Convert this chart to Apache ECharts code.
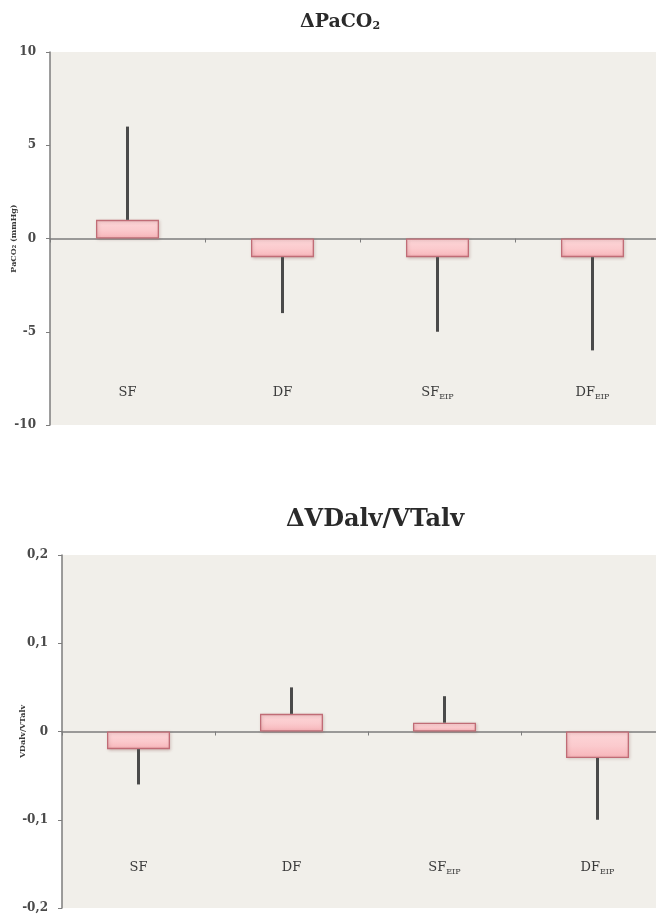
<!DOCTYPE html>
<html>
<head>
<meta charset="utf-8">
<script src="https://cdn.jsdelivr.net/npm/echarts@6/dist/echarts.min.js"></script>
<style>
  html, body { margin: 0; padding: 0; background: #ffffff; }
  #chart { width: 656px; height: 919px; }
</style>
</head>
<body>
<div id="chart"></div>
<script>
// Groups compared in both panels
const categories = ['SF', 'DF', 'SF_EIP', 'DF_EIP'];

// ΔPaCO2 (mmHg): mean change and end of the one-sided error whisker
const paco2Mean = [1, -1, -1, -1];
const paco2Whisker = [6, -4, -5, -6];
const paco2Ticks = ['-10', '-5', '0', '5', '10'];

// ΔVDalv/VTalv: mean change and end of the one-sided error whisker
const vdMean = [-0.02, 0.02, 0.01, -0.03];
const vdWhisker = [-0.06, 0.05, 0.04, -0.1];
const vdTicks = ['-0,2', '-0,1', '0', '0,1', '0,2'];

const serif = '"DejaVu Serif", "Liberation Serif", serif';
const textColor = '#3a3a3a';
const axisGray = '#7d7d7d';

const barFill = {
  type: 'linear', x: 0, y: 0, x2: 0, y2: 1,
  colorStops: [
    { offset: 0, color: '#fdd7d9' },
    { offset: 0.55, color: '#fbcacd' },
    { offset: 1, color: '#f7b4b9' }
  ]
};

function catLabel(name) {
  const parts = name.split('_');
  return parts.length > 1 ? parts[0] + '{sub|' + parts[1] + '}' : parts[0];
}

const labelRich = {
  sub: { fontFamily: serif, fontSize: 8, color: textColor, lineHeight: 9, verticalAlign: 'bottom' }
};

function zeroAxis(gridIndex) {
  return {
    type: 'category', gridIndex, data: categories,
    axisLine: { onZero: true, lineStyle: { color: axisGray, width: 1.5 } },
    axisTick: { show: true, length: 4, lineStyle: { color: axisGray } },
    axisLabel: { show: false },
    splitLine: { show: false }
  };
}

function labelAxis(gridIndex, margin) {
  return {
    type: 'category', gridIndex, data: categories, position: 'bottom',
    axisLine: { show: false, onZero: false },
    axisTick: { show: false },
    axisLabel: {
      margin, fontFamily: serif, fontSize: 13, color: textColor, lineHeight: 17,
      formatter: catLabel, rich: labelRich
    }
  };
}

function valueAxis(gridIndex, min, max, interval, ticks, name, nameGap) {
  return {
    type: 'value', gridIndex, min, max, interval,
    name, nameLocation: 'middle', nameRotate: 90, nameGap, nameMoveOverlap: false,
    nameTextStyle: { fontFamily: serif, fontSize: 8, fontWeight: 'bold', color: textColor },
    axisLine: { show: true, onZero: false, lineStyle: { color: axisGray, width: 1.5 } },
    axisTick: { show: true, length: 4, lineStyle: { color: axisGray } },
    splitLine: { show: false },
    axisLabel: {
      fontFamily: serif, fontSize: 12, fontWeight: 'bold', color: '#4a4a4a', margin: 14,
      formatter: function (v) {
        const idx = Math.round((v - min) / interval);
        return ticks[idx] !== undefined ? ticks[idx] : '';
      }
    }
  };
}

function barSeries(xi, yi, values) {
  return {
    type: 'bar', xAxisIndex: xi, yAxisIndex: yi, data: values, barWidth: 63,
    itemStyle: {
      color: barFill, borderColor: '#c06c76', borderWidth: 1.3,
      shadowColor: 'rgba(120,60,60,0.25)', shadowBlur: 3, shadowOffsetX: 1, shadowOffsetY: 1
    },
    z: 3
  };
}

function whiskerSeries(xi, yi, means, ends) {
  return {
    type: 'custom', xAxisIndex: xi, yAxisIndex: yi, z: 4,
    data: means.map((m, i) => [i, m, ends[i]]),
    renderItem: function (params, api) {
      const a = api.coord([api.value(0), api.value(1)]);
      const b = api.coord([api.value(0), api.value(2)]);
      return {
        type: 'line',
        shape: { x1: a[0], y1: a[1], x2: b[0], y2: b[1] },
        style: { stroke: '#4a4a4a', lineWidth: 3 }
      };
    }
  };
}

const chart = echarts.init(document.getElementById('chart'), null, { renderer: 'canvas' });

chart.setOption({
  backgroundColor: '#ffffff',
  animation: false,
  title: [
    {
      text: 'ΔPaCO{sub|2}', left: 335, textAlign: 'center', top: 8,
      textStyle: {
        fontFamily: serif, fontSize: 19, fontWeight: 'bold', color: '#2a2a2a',
        rich: { sub: { fontFamily: serif, fontSize: 11, fontWeight: 'bold', color: '#2a2a2a', lineHeight: 11, verticalAlign: 'bottom' } }
      }
    },
    {
      text: 'ΔVDalv/VTalv', left: 370, textAlign: 'center', top: 503,
      textStyle: { fontFamily: serif, fontSize: 24, fontWeight: 'bold', color: '#2a2a2a' }
    }
  ],
  grid: [
    { left: 50, top: 52, height: 373, right: -14, outerBoundsMode: 'none', containLabel: false,
      show: true, backgroundColor: '#f1efea', borderWidth: 0 },
    { left: 62, top: 555, height: 353, right: -18, outerBoundsMode: 'none', containLabel: false,
      show: true, backgroundColor: '#f1efea', borderWidth: 0 }
  ],
  xAxis: [
    zeroAxis(0),
    labelAxis(0, -41),
    zeroAxis(1),
    labelAxis(1, -49)
  ],
  yAxis: [
    valueAxis(0, -10, 10, 5, paco2Ticks, 'PaCO₂ (mmHg)', 32),
    valueAxis(1, -0.2, 0.2, 0.1, vdTicks, 'VDalv/VTalv', 35)
  ],
  series: [
    barSeries(0, 0, paco2Mean),
    whiskerSeries(0, 0, paco2Mean, paco2Whisker),
    barSeries(2, 1, vdMean),
    whiskerSeries(2, 1, vdMean, vdWhisker)
  ]
});
</script>
</body>
</html>
